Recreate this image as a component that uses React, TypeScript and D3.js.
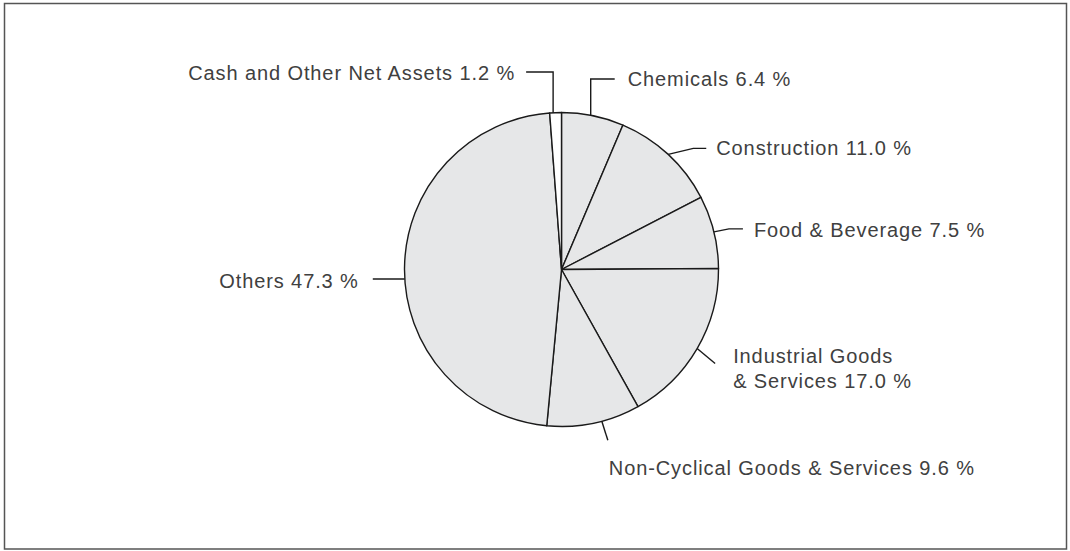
import React from "react";
import * as d3 from "d3";

const categories = [
  "Chemicals",
  "Construction",
  "Food & Beverage",
  "Industrial Goods & Services",
  "Non-Cyclical Goods & Services",
  "Others",
  "Cash and Other Net Assets",
];
const values = [6.4, 11.0, 7.5, 17.0, 9.6, 47.3, 1.2];
const labelLines = [
  ["Chemicals 6.4 %"],
  ["Construction 11.0 %"],
  ["Food & Beverage 7.5 %"],
  ["Industrial Goods", "& Services 17.0 %"],
  ["Non-Cyclical Goods & Services 9.6 %"],
  ["Others 47.3 %"],
  ["Cash and Other Net Assets 1.2 %"],
];

// leader layout: angle nudge (deg), path offsets relative to arc point, text offset relative to path end
type Layout = {
  nudge: number;
  pts: (s: [number, number]) => [number, number][];
  tdx: number;
  tdy: number;
  anchor: "start" | "end";
};
const layouts: Layout[] = [
  { nudge: -0.8, pts: (s) => [[s[0], 79], [s[0] + 24, 79]], tdx: 13, tdy: 0, anchor: "start" },
  { nudge: 0, pts: (s) => [[s[0] + 25, s[1] - 6], [s[0] + 38, s[1] - 6]], tdx: 10, tdy: 0, anchor: "start" },
  { nudge: 0, pts: (s) => [[s[0] + 15, s[1] - 3], [s[0] + 29, s[1] - 3]], tdx: 11, tdy: 1, anchor: "start" },
  { nudge: 0, pts: (s) => [[s[0] + 18, s[1] + 15]], tdx: 18, tdy: -8, anchor: "start" },
  { nudge: -3, pts: (s) => [[s[0] + 6, s[1] + 19]], tdx: 1, tdy: 28, anchor: "start" },
  { nudge: -4, pts: (s) => [[s[0] - 32, s[1]]], tdx: -14, tdy: 2, anchor: "end" },
  { nudge: -0.9, pts: (s) => [[s[0], 72], [s[0] - 27, 72]], tdx: -11, tdy: 1, anchor: "end" },
];

const W = 1070;
const H = 551;
const cx = 561.5;
const cy = 269.5;
const R = 157;

export default function App() {
  const pie = d3
    .pie<number>()
    .sort(null)
    .startAngle(0)
    .endAngle(2 * Math.PI)
    .value((d) => d);
  const arcs = pie(values);
  const arcGen = d3.arc<d3.PieArcDatum<number>>().innerRadius(0).outerRadius(R);
  const line = d3.line();

  return (
    <svg
      width={W}
      height={H}
      style={{ position: "absolute", left: 0, top: 0, display: "block", background: "#fff" }}
    >
      <rect x={4.5} y={3.5} width={1062} height={545.5} fill="#fff" stroke="#555" strokeWidth={1.5} />
      <g transform={`translate(${cx},${cy})`}>
        {arcs.map((a, i) => (
          <path
            key={categories[i]}
            d={arcGen(a) || ""}
            fill={i === arcs.length - 1 ? "#ffffff" : "#e6e7e8"}
            stroke="#1a1a1a"
            strokeWidth={1.4}
            strokeLinejoin="round"
          />
        ))}
      </g>
      {arcs.map((a, i) => {
        const L = layouts[i];
        const ang = (a.startAngle + a.endAngle) / 2 + (L.nudge * Math.PI) / 180;
        const s: [number, number] = [cx + R * Math.sin(ang), cy - R * Math.cos(ang)];
        const pts = [s, ...L.pts(s)];
        const end = pts[pts.length - 1];
        const lines = labelLines[i];
        const tx = end[0] + L.tdx;
        const ty = end[1] + L.tdy;
        return (
          <g key={"lbl" + i}>
            <path d={line(pts) || ""} fill="none" stroke="#1a1a1a" strokeWidth={1.4} />
            <text
              x={tx}
              y={ty}
              textAnchor={L.anchor}
              fontFamily="'Liberation Sans', Arial, sans-serif"
              fontSize={20}
              letterSpacing={0.9}
              fill="#404040"
            >
              {lines.map((t, k) => (
                <tspan key={k} x={tx} dy={k === 0 ? "0.35em" : "1.25em"}>
                  {t}
                </tspan>
              ))}
            </text>
          </g>
        );
      })}
    </svg>
  );
}
